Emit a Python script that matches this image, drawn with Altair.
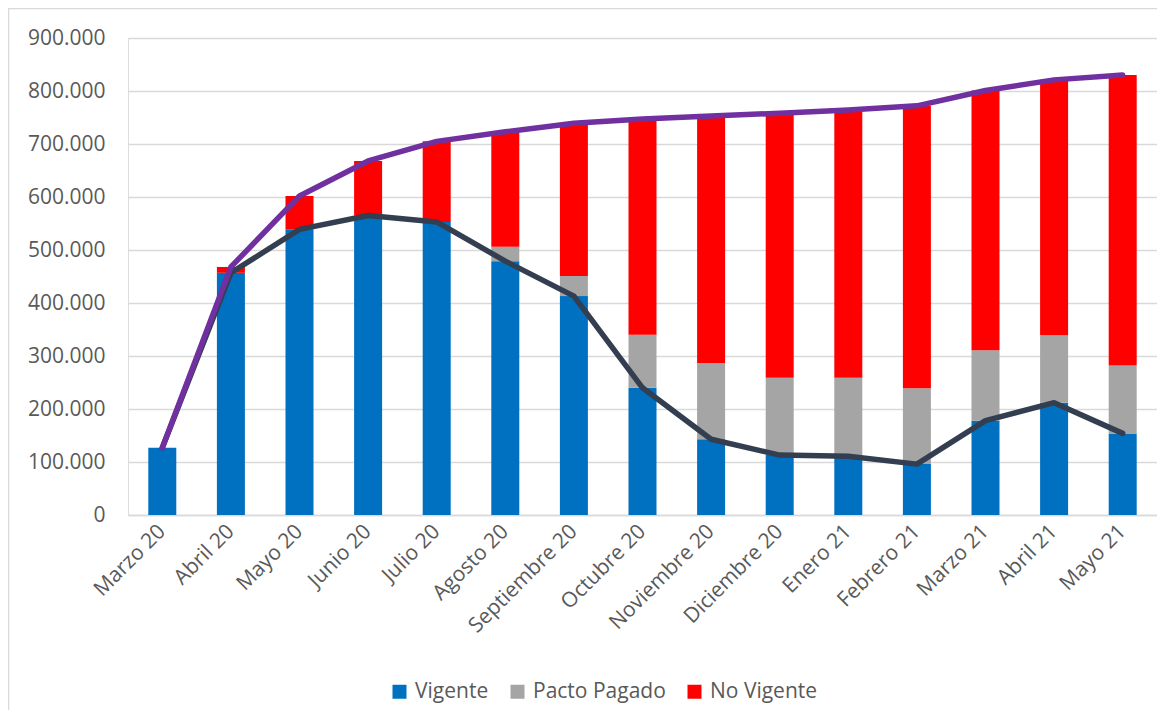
import altair as alt
import pandas as pd

meses = ["Marzo 20", "Abril 20", "Mayo 20", "Junio 20", "Julio 20", "Agosto 20",
         "Septiembre 20", "Octubre 20", "Noviembre 20", "Diciembre 20", "Enero 21",
         "Febrero 21", "Marzo 21", "Abril 21", "Mayo 21"]
vigente = [127000, 457000, 539000, 565000, 553000, 479000, 413000, 240000,
           143000, 113000, 111000, 96000, 178000, 212000, 154000]
pacto_pagado = [0, 0, 0, 0, 0, 27000, 38000, 100000, 144000, 146000, 148000,
                143000, 133000, 127000, 128000]
no_vigente = [0, 11000, 63000, 103000, 152000, 217000, 288000, 407000, 466000,
              499000, 505000, 533000, 490000, 482000, 548000]
series = ["Vigente", "Pacto Pagado", "No Vigente"]
colores = ["#0070C0", "#A5A5A5", "#FF0000"]

rows = []
for i, m in enumerate(meses):
    for k, (s, vals) in enumerate(zip(series, [vigente, pacto_pagado, no_vigente])):
        rows.append({"mes": m, "serie": s, "valor": vals[i], "orden": k})
bars_df = pd.DataFrame(rows)

lines_df = pd.DataFrame({
    "mes": meses,
    "vigente": vigente,
    "total": [a + b + c for a, b, c in zip(vigente, pacto_pagado, no_vigente)],
})

FONT = "Open Sans"
GRAY_TXT = "#595959"
W, H = 1029, 477

x_enc = alt.X("mes:N", sort=meses, title=None,
              scale=alt.Scale(paddingInner=0, paddingOuter=0),
              axis=alt.Axis(labelAngle=-45, labelAlign="right", labelBaseline="middle",
                            labelFontSize=21, labelFont=FONT, labelColor=GRAY_TXT,
                            ticks=False, domainColor="#D9D9D9", domainWidth=1.5,
                            labelPadding=13, grid=False))

bars = alt.Chart(bars_df).mark_bar(size=28).encode(
    x=x_enc,
    y=alt.Y("valor:Q", stack="zero", title=None,
            scale=alt.Scale(domain=[0, 900000], nice=False),
            axis=alt.Axis(values=list(range(0, 900001, 100000)),
                          labelExpr="replace(format(datum.value, ',d'), regexp(',', 'g'), '.')",
                          labelFontSize=21, labelFont=FONT, labelColor=GRAY_TXT,
                          ticks=False, domain=False, labelPadding=23,
                          gridColor="#D9D9D9", gridWidth=1.5)),
    color=alt.Color("serie:N", scale=alt.Scale(domain=series, range=colores),
                    legend=alt.Legend(title=None, orient="none", legendX=261, legendY=643,
                                      direction="horizontal", symbolType="square",
                                      symbolSize=196, symbolStrokeWidth=0,
                                      labelFontSize=21, labelFont=FONT, labelColor=GRAY_TXT,
                                      columnPadding=18, labelOffset=5)),
    order=alt.Order("orden:Q", sort="ascending"),
)

line_vig = alt.Chart(lines_df).mark_line(color="#333F50", strokeWidth=5.5,
                                         strokeCap="round", strokeJoin="round").encode(
    x=alt.X("mes:N", sort=meses), y=alt.Y("vigente:Q"))
line_tot = alt.Chart(lines_df).mark_line(color="#7030A0", strokeWidth=5.5,
                                         strokeCap="round", strokeJoin="round").encode(
    x=alt.X("mes:N", sort=meses), y=alt.Y("total:Q"))

frame = alt.Chart(pd.DataFrame({"a": [0]})).mark_rect(
    filled=False, stroke="#D9D9D9", strokeWidth=1.5).encode(
    x=alt.value(-119.5), x2=alt.value(1200), y=alt.value(-29.5), y2=alt.value(800))

chart = alt.layer(frame, bars, line_vig, line_tot).properties(
    width=W, height=H,
    autosize=alt.AutoSizeParams(type="none"),
    padding={"left": 120, "top": 30, "right": 0, "bottom": 195},
).configure_view(stroke=None).configure(background="white")

chart.save("out.html", embed_options={"renderer": "svg", "actions": False})
